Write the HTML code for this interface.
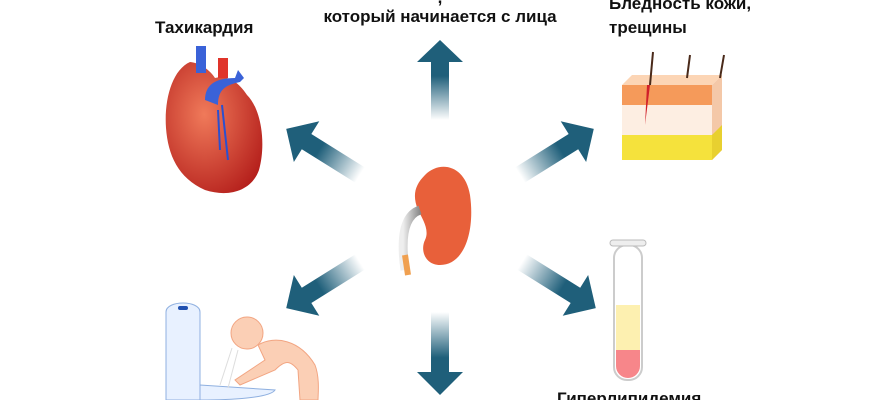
<!DOCTYPE html>
<html><head><meta charset="utf-8"><style>
html,body{margin:0;padding:0;background:#fff;}
svg{display:block}
text{font-family:"Liberation Sans","DejaVu Sans",sans-serif;font-weight:bold;fill:#111}
</style></head><body>
<svg width="870" height="400" viewBox="0 0 870 400" xmlns="http://www.w3.org/2000/svg">
<defs>
<linearGradient id="ga" x1="0" y1="0" x2="1" y2="0"><stop offset="0" stop-color="#1f5f7a" stop-opacity="0"/><stop offset="0.55" stop-color="#1f5f7a"/></linearGradient>
<radialGradient id="hg" cx="0.4" cy="0.4" r="0.7"><stop offset="0" stop-color="#f07a5a"/><stop offset="1" stop-color="#b5201c"/></radialGradient>
<linearGradient id="kg" x1="0" y1="0" x2="1" y2="0"><stop offset="0" stop-color="#eee"/><stop offset="1" stop-color="#888"/></linearGradient>
</defs>

<g transform="translate(440,120) rotate(-90)"><path d="M0,-9 L58,-9 L58,-23 L80,0 L58,23 L58,9 L0,9 Z" fill="url(#ga)"/></g>
<g transform="translate(440,312) rotate(90)"><path d="M0,-9 L60,-9 L60,-23 L83,0 L60,23 L60,9 L0,9 Z" fill="url(#ga)"/></g>
<g transform="translate(360,175) rotate(-148)"><path d="M0,-9 L63,-9 L63,-24 L87,0 L63,24 L63,9 L0,9 Z" fill="url(#ga)"/></g>
<g transform="translate(520,175) rotate(-32)"><path d="M0,-9 L63,-9 L63,-24 L87,0 L63,24 L63,9 L0,9 Z" fill="url(#ga)"/></g>
<g transform="translate(360,262) rotate(148)"><path d="M0,-9 L63,-9 L63,-24 L87,0 L63,24 L63,9 L0,9 Z" fill="url(#ga)"/></g>
<g transform="translate(522,262) rotate(32)"><path d="M0,-9 L63,-9 L63,-24 L87,0 L63,24 L63,9 L0,9 Z" fill="url(#ga)"/></g>

<text x="155" y="33" font-size="17">Тахикардия</text>
<text x="440" y="3" font-size="17" text-anchor="middle">,</text>
<text x="440" y="22" font-size="17" text-anchor="middle">который начинается с лица</text>
<text x="609" y="9" font-size="17">Бледность кожи,</text>
<text x="609" y="33" font-size="17">трещины</text>
<text x="557" y="404" font-size="17">Гиперлипидемия</text>

<!-- heart -->
<path d="M190,62 C172,70 164,100 166,128 C168,155 178,178 205,190 C230,198 252,190 259,170 C266,145 262,110 247,95 C237,80 226,75 215,78 C210,70 200,63 190,62 Z" fill="url(#hg)"/>
<path d="M196,46 h10 v27 h-10 Z" fill="#3a62d8"/>
<path d="M205,100 C205,85 215,78 235,78 l3,-8 l6,8 l-4,4 C225,85 218,90 218,105 Z" fill="#3a62d8"/>
<path d="M218,58 h10 v20 h-10 Z" fill="#e0342a"/>
<path d="M222,105 L228,160 M218,110 L220,150" stroke="#2a50d0" stroke-width="2" fill="none"/>

<!-- skin -->
<path d="M622,85 L712,85 L722,75 L632,75 Z" fill="#fcd5b5"/>
<rect x="622" y="85" width="90" height="75" fill="#fdeee2"/>
<rect x="622" y="85" width="90" height="20" fill="#f59a5a"/>
<rect x="622" y="135" width="90" height="25" fill="#f5e23c"/>
<path d="M712,85 L722,75 L722,150 L712,160 Z" fill="#f4c8a8"/>
<path d="M712,135 L722,125 L722,150 L712,160 Z" fill="#e8d030"/>
<path d="M650,85 L645,125 L647,85 Z" fill="#d0202a"/>
<path d="M650,85 L653,52 M687,78 L690,55 M720,78 L724,55" stroke="#4a2a1a" stroke-width="2"/>

<!-- kidney -->
<path d="M425,175 C440,160 465,165 470,195 C475,230 465,265 440,265 C425,265 420,250 425,240 C430,230 422,218 418,210 C412,195 415,185 425,175 Z" fill="#e8603a"/>
<path d="M420,210 C405,215 400,235 405,270" stroke="url(#kg)" stroke-width="9" fill="none"/>
<path d="M405,255 L408,275" stroke="#f0a050" stroke-width="6"/>

<!-- test tube -->
<rect x="614" y="245" width="28" height="135" rx="13" fill="#fff" stroke="#ccc" stroke-width="2"/>
<rect x="616" y="305" width="24" height="45" fill="#fdf0b0"/>
<path d="M616,350 h24 v16 a12,12 0 0 1 -24,0 Z" fill="#f7868a"/>
<rect x="610" y="240" width="36" height="6" rx="3" fill="#eee" stroke="#bbb"/>

<!-- toilet -->
<path d="M166,312 C166,300 200,300 200,312 L200,400 L166,400 Z" fill="#e8f1ff" stroke="#8fb0e0"/>
<rect x="178" y="306" width="10" height="4" rx="2" fill="#2050b0"/>
<path d="M200,385 L275,390 C270,398 230,400 200,400 Z" fill="#e8f1ff" stroke="#8fb0e0"/>
<!-- person -->
<circle cx="247" cy="333" r="16" fill="#fbcfb5" stroke="#f2a582"/>
<path d="M258,345 C275,335 300,340 315,365 C320,378 318,395 318,400 L300,400 L298,370 C290,360 285,360 275,370 L240,385 L235,380 L265,360 Z" fill="#fbcfb5" stroke="#f2a582"/>
<path d="M232,348 L220,385 M238,350 L228,388" stroke="#ddd" stroke-width="1"/>
</svg>
</body></html>
